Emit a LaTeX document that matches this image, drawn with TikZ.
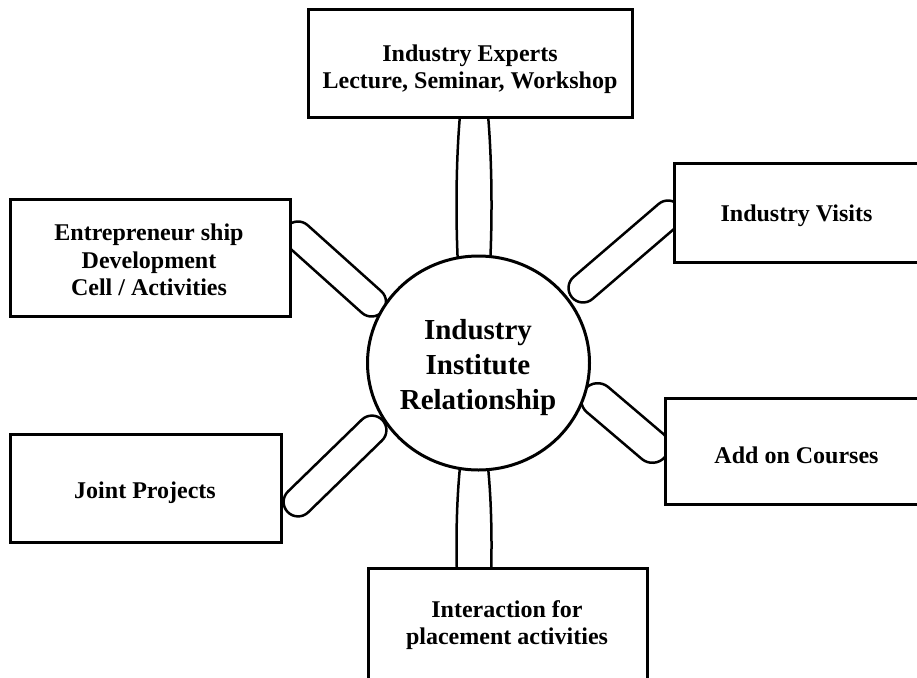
\documentclass[tikz,border=0pt]{standalone}
\usepackage{fontspec}
\setmainfont{Liberation Serif}
\usetikzlibrary{shapes.geometric,shapes.misc}
\begin{document}
\begin{tikzpicture}[x=1pt,y=-1pt,
  box/.style={draw, line width=3pt, fill=white, inner sep=0pt},
  boxtext/.style={inner sep=0pt, align=center,
    font=\fontsize{24}{27.5}\selectfont\bfseries},
  capsule/.style={draw, line width=2.5pt, fill=white, rounded rectangle,
    inner sep=0pt, minimum height=29pt},
  tube/.style={draw, line width=2.5pt, fill=white, ellipse, inner sep=0pt,
    minimum width=35pt}]
\useasboundingbox (0,0) rectangle (917,677);
\fill[white] (0,0) rectangle (917,677);
% connectors
\node[tube, minimum height=300pt] (cT) at (474,205) {};
\node[tube, minimum height=260pt] (cB) at (474,545) {};
\node[capsule, rotate=-41.9, minimum width=127.8pt] (cE) at (334.75,269) {};
\node[capsule, rotate=40.65, minimum width=141pt] (cV) at (625.5,251.5) {};
\node[capsule, rotate=44.2, minimum width=132pt] (cJ) at (335,466) {};
\node[capsule, rotate=-40.4, minimum width=104.9pt, minimum height=33pt] (cA) at (625,423) {};
% boxes
\node[box, minimum width=324pt, minimum height=107pt] (ie) at (470,63.5) {};
\node[boxtext] (ieT) at (470,69) {Industry Experts\\Lecture, Seminar, Workshop};
\node[box, minimum width=245pt, minimum height=99pt] (iv) at (796.5,212.5) {};
\node[boxtext] (ivT) at (796.5,215.5) {Industry Visits};
\node[box, minimum width=280pt, minimum height=117pt] (ed) at (150,257.5) {};
\node[boxtext] (edT) at (149,260) {Entrepreneur ship\\Development\\Cell / Activities};
\node[box, minimum width=263pt, minimum height=106pt] (ac) at (796.5,451) {};
\node[boxtext] (acT) at (796.5,455) {Add on Courses};
\node[box, minimum width=271pt, minimum height=108pt] (jp) at (145.5,488) {};
\node[boxtext] (jpT) at (145,493) {Joint Projects};
\node[box, minimum width=279pt, minimum height=111pt] (pa) at (507.5,623.5) {};
\node[boxtext] (paT) at (507,625) {Interaction for\\placement activities};
% centre
\node[draw, line width=3pt, fill=white, ellipse, minimum width=222pt,
  minimum height=214pt, inner sep=0pt] (iir) at (478.5,363) {};
\node[inner sep=0pt, align=center, font=\fontsize{29}{35}\selectfont\bfseries]
  (iirT) at (478,368) {Industry\\Institute\\Relationship};
\end{tikzpicture}
\end{document}
